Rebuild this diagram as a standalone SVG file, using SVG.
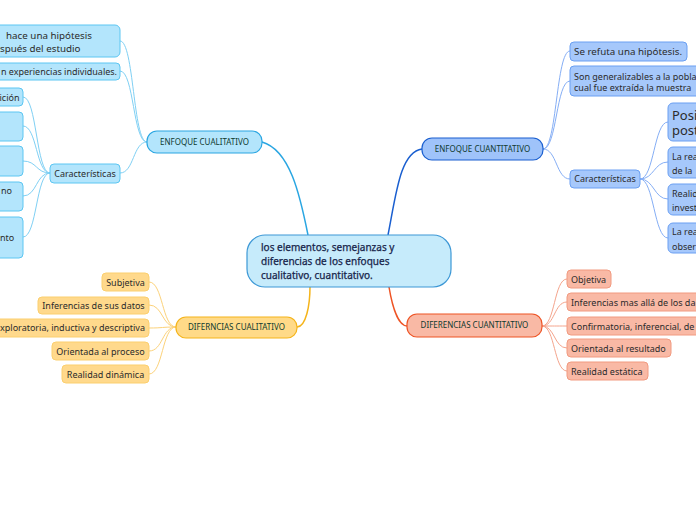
<svg xmlns="http://www.w3.org/2000/svg" width="696" height="520" viewBox="0 0 696 520">
<style>
text{font-family:"Noto Sans","Open Sans","DejaVu Sans",sans-serif;font-size:9px;fill:#2b2b2b}
.br{font-size:8px;fill:#0f3a30}
.ctr{font-size:10px;fill:#16244a;stroke:#16244a;stroke-width:0.25}
.big{font-size:13px}
.m{font-size:9.8px}
.lb{fill:#b3e5fc;stroke:#5cc6f2;stroke-width:1}
.db{fill:#a6c8fb;stroke:#6a9ff2;stroke-width:1}
.ly{fill:#ffd98c;stroke:#fbcf6e;stroke-width:1}
.lr{fill:#f9b9a5;stroke:#f19a80;stroke-width:1}
.c{fill:none;stroke-width:1}
</style>
<rect width="696" height="520" fill="#ffffff"/>
<g id="connectors">
  <path d="M308 235 C300 195 290 150 262 142" fill="none" stroke="#2aa6e2" stroke-width="1.5"/>
  <path d="M388 235 C396 195 400 152 422 149" fill="none" stroke="#1a5fd0" stroke-width="1.5"/>
  <path d="M310 287 C310 305 306 327 297 327" fill="none" stroke="#f5b41a" stroke-width="1.5"/>
  <path d="M389 287 C392 305 398 326 407 326" fill="none" stroke="#ee5425" stroke-width="1.5"/>
  <g class="c" stroke="#7fd0f4">
    <path d="M147 142 C133 142 134 41 120 41"/>
    <path d="M147 142 C133 142 134 71 120 71"/>
    <path d="M147 142 C133 142 134 173 120 173"/>
    <path d="M50 173 C36 173 37 97 23 97"/>
    <path d="M50 173 C36 173 37 126 23 126"/>
    <path d="M50 173 C36 173 37 161 23 161"/>
    <path d="M50 173 C36 173 37 196 23 196"/>
    <path d="M50 173 C36 173 37 237 23 237"/>
  </g>
  <g class="c" stroke="#85aef5">
    <path d="M543 149 C557 149 556 51 570 51"/>
    <path d="M543 149 C557 149 556 81 570 81"/>
    <path d="M543 149 C557 149 556 179 570 179"/>
    <path d="M640 179 C654 179 654 122 668 122"/>
    <path d="M640 179 C654 179 654 162 668 162"/>
    <path d="M640 179 C654 179 654 199 668 199"/>
    <path d="M640 179 C654 179 654 238 668 238"/>
  </g>
  <g class="c" stroke="#fcd27a">
    <path d="M176 327 C162 327 163 282 149 282"/>
    <path d="M176 327 C162 327 163 305 149 305"/>
    <path d="M176 327 C162 327 163 328 149 328"/>
    <path d="M176 327 C162 327 163 351 149 351"/>
    <path d="M176 327 C162 327 163 374 149 374"/>
  </g>
  <g class="c" stroke="#f4a48c">
    <path d="M542 326 C555 326 554 279 567 279"/>
    <path d="M542 326 C555 326 554 302 567 302"/>
    <path d="M542 326 C555 326 554 326 567 326"/>
    <path d="M542 326 C555 326 554 348 567 348"/>
    <path d="M542 326 C555 326 554 371 567 371"/>
  </g>
</g>
<g id="center">
  <rect x="247" y="235" width="204" height="52" rx="18" fill="#c6ebfb" stroke="#3d98d6" stroke-width="1.2"/>
  <text class="ctr" x="261" y="251">los elementos, semejanzas y</text>
  <text class="ctr" x="261" y="265">diferencias de los enfoques</text>
  <text class="ctr" x="261" y="279">cualitativo, cuantitativo.</text>
</g>
<g id="enfoque-cualitativo">
  <rect x="147" y="131" width="115" height="22" rx="10" fill="#b3e5fc" stroke="#2aa6e2" stroke-width="1.2"/>
  <text class="br" x="204.5" y="144.8" text-anchor="middle">ENFOQUE CUALITATIVO</text>
</g>
<g id="cl-1"><rect class="lb" x="-10" y="25" width="130" height="32" rx="5"/><text class="m" x="6" y="38.5">hace una hipótesis</text><text class="m" x="0" y="51.5">spués del estudio</text></g>
<g id="cl-2"><rect class="lb" x="-10" y="63" width="130" height="17" rx="4"/><text x="117" y="74.5" text-anchor="end">n experiencias individuales.</text></g>
<g id="cl-caract"><rect class="lb" x="50" y="164" width="70" height="19" rx="4"/><text x="85" y="176.5" text-anchor="middle">Características</text></g>
<g id="cl-c1"><rect class="lb" x="-10" y="88" width="33" height="18" rx="4"/><text x="19.5" y="100.5" text-anchor="end">ición</text></g>
<g id="cl-c2"><rect class="lb" x="-10" y="112" width="33" height="29" rx="4"/></g>
<g id="cl-c3"><rect class="lb" x="-10" y="146" width="33" height="30" rx="4"/></g>
<g id="cl-c4"><rect class="lb" x="-10" y="182" width="33" height="29" rx="4"/><text x="1" y="194">no</text></g>
<g id="cl-c5"><rect class="lb" x="-10" y="217" width="33" height="41" rx="4"/><text x="0" y="241">nto</text></g>

<g id="enfoque-cuantitativo">
  <rect x="422" y="138" width="121" height="22" rx="10" fill="#9fc3fa" stroke="#1a5fd0" stroke-width="1.2"/>
  <text class="br" x="482.5" y="151.8" text-anchor="middle">ENFOQUE CUANTITATIVO</text>
</g>
<g id="cn-1"><rect class="db" x="570" y="42" width="117" height="19" rx="4"/><text class="m" x="574" y="54.8">Se refuta una hipótesis.</text></g>
<g id="cn-2"><rect class="db" x="570" y="66" width="140" height="30" rx="4"/><text x="574" y="80">Son generalizables a la pobla</text><text x="574" y="91">cual fue extraída la muestra</text></g>
<g id="cn-caract"><rect class="db" x="570" y="170" width="70" height="18" rx="4"/><text x="605" y="182" text-anchor="middle">Características</text></g>
<g id="cn-c1"><rect class="db" x="668" y="103" width="40" height="38" rx="5"/><text class="big" x="672" y="119.5">Posit</text><text class="big" x="672" y="134.5">post</text></g>
<g id="cn-c2"><rect class="db" x="668" y="147" width="40" height="31" rx="5"/><text x="672" y="160">La rea</text><text x="672" y="174">de la</text></g>
<g id="cn-c3"><rect class="db" x="668" y="184" width="40" height="31" rx="5"/><text x="672" y="197">Realid</text><text x="672" y="211">invest</text></g>
<g id="cn-c4"><rect class="db" x="668" y="223" width="40" height="30" rx="5"/><text x="672" y="235">La rea</text><text x="672" y="250">obser</text></g>

<g id="dif-cualitativo">
  <rect x="176" y="317" width="121" height="21" rx="10" fill="#ffda88" stroke="#f5b41a" stroke-width="1.2"/>
  <text class="br" x="236.5" y="330.3" text-anchor="middle">DIFERNCIAS CUALITATIVO</text>
</g>
<g id="dl-1"><rect class="ly" x="102" y="273" width="47" height="18" rx="4"/><text x="125.5" y="285.5" text-anchor="middle">Subjetiva</text></g>
<g id="dl-2"><rect class="ly" x="38" y="297" width="111" height="17" rx="4"/><text x="93.5" y="308.5" text-anchor="middle">Inferencias de sus datos</text></g>
<g id="dl-3"><rect class="ly" x="-10" y="319" width="159" height="18" rx="4"/><text x="145" y="331" text-anchor="end">xploratoria, inductiva y descriptiva</text></g>
<g id="dl-4"><rect class="ly" x="52" y="342" width="97" height="18" rx="4"/><text x="100.5" y="354.5" text-anchor="middle">Orientada al proceso</text></g>
<g id="dl-5"><rect class="ly" x="62" y="365" width="87" height="18" rx="4"/><text x="105.5" y="377.5" text-anchor="middle">Realidad dinámica</text></g>

<g id="dif-cuantitativo">
  <rect x="407" y="314" width="135" height="23" rx="10" fill="#f9b9a5" stroke="#ee5425" stroke-width="1.2"/>
  <text class="br" x="474.5" y="328.3" text-anchor="middle">DIFERENCIAS CUANTITATIVO</text>
</g>
<g id="dr-1"><rect class="lr" x="567" y="270" width="44" height="18" rx="4"/><text x="571" y="282.5">Objetiva</text></g>
<g id="dr-2"><rect class="lr" x="567" y="293" width="140" height="18" rx="4"/><text x="571" y="305.5">Inferencias mas allá de los da</text></g>
<g id="dr-3"><rect class="lr" x="567" y="317" width="140" height="18" rx="4"/><text x="571" y="329.5">Confirmatoria, inferencial, de</text></g>
<g id="dr-4"><rect class="lr" x="567" y="339" width="104" height="18" rx="4"/><text x="571" y="351.5">Orientada al resultado</text></g>
<g id="dr-5"><rect class="lr" x="567" y="362" width="81" height="18" rx="4"/><text x="571" y="374.5">Realidad estática</text></g>
</svg>
